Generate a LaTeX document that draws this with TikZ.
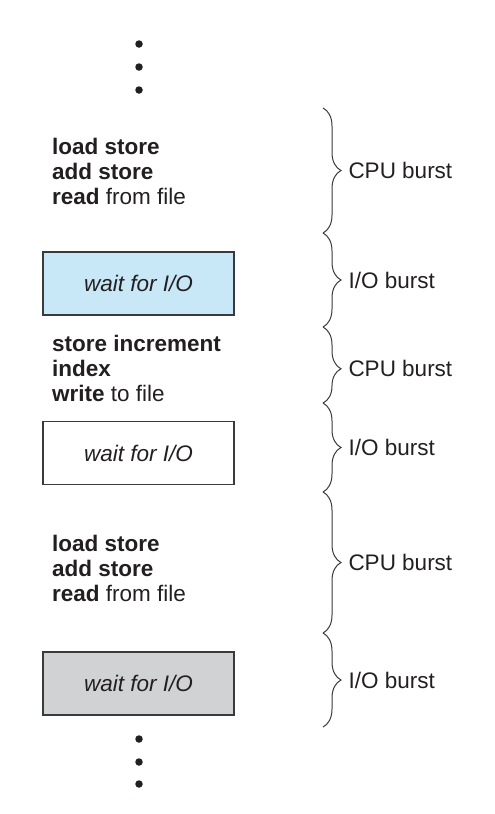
\documentclass[tikz,border=0pt]{standalone}
\usepackage{fontspec}
\setmainfont{Liberation Sans}
\usetikzlibrary{decorations.pathreplacing}
\definecolor{ink}{HTML}{231F20}
\definecolor{waitblue}{HTML}{C8E8F8}
\definecolor{waitgray}{HTML}{D1D2D4}
\definecolor{rim}{HTML}{3A3A3A}

\begin{document}
\begin{tikzpicture}[x=1pt, y=-1pt,
	every node/.style={text=ink, font=\fontsize{22.5}{25}\selectfont},
	code/.style={anchor=west, inner sep=0pt, align=left},
	wait/.style={draw=rim, line width=1.2pt, minimum width=191pt, minimum height=63pt, inner sep=0pt, font=\fontsize{22.5}{25}\selectfont\itshape},
	burst/.style={draw=rim, line width=1pt, decorate, decoration={brace, amplitude=18pt}},
	burstname/.style={anchor=west, inner sep=0pt, xshift=25pt},
	dot/.style={circle, fill=ink, inner sep=0pt, minimum size=7.5pt}]
	\useasboundingbox (0, 0) rectangle (495, 814);
	% dots before
	\node[dot] (T1) at (139, 44) {};
	\node[dot] (T2) at (139, 67) {};
	\node[dot] (T3) at (139, 90) {};
	% instructions and waits
	\node[code] (C1) at (52, 171) {\textbf{load store}\\\textbf{add store}\\\textbf{read} from file};
	\node[wait, fill=waitblue] (W1) at (138.5, 283.5) {wait for I/O};
	\node[code] (C2) at (52, 368) {\textbf{store increment}\\\textbf{index}\\\textbf{write} to file};
	\node[wait, fill=white] (W2) at (138.5, 453) {wait for I/O};
	\node[code] (C3) at (52, 568) {\textbf{load store}\\\textbf{add store}\\\textbf{read} from file};
	\node[wait, fill=waitgray] (W3) at (138.5, 683.5) {wait for I/O};
	% dots after
	\node[dot] (D1) at (139, 739) {};
	\node[dot] (D2) at (139, 762) {};
	\node[dot] (D3) at (139, 784) {};
	% bursts
	\coordinate (B0) at (323, 108);
	\coordinate (B1) at (323, 233);
	\coordinate (B2) at (323, 327);
	\coordinate (B3) at (323, 403);
	\coordinate (B4) at (323, 492);
	\coordinate (B5) at (323, 633);
	\coordinate (B6) at (323, 727);
	\draw[burst] (B0) -- node[burstname] {CPU burst} (B1);
	\draw[burst] (B1) -- node[burstname] {I/O burst} (B2);
	\draw[burst, decoration={aspect=0.55}] (B2) -- node[burstname, pos=0.55] {CPU burst} (B3);
	\draw[burst] (B3) -- node[burstname] {I/O burst} (B4);
	\draw[burst] (B4) -- node[burstname] {CPU burst} (B5);
	\draw[burst] (B5) -- node[burstname] {I/O burst} (B6);
\end{tikzpicture}
\end{document}
